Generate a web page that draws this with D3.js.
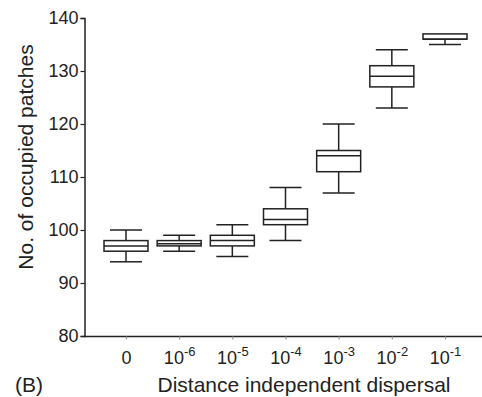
<!DOCTYPE html>
<html><head><meta charset="utf-8">
<script src="https://cdn.jsdelivr.net/npm/d3@7"></script>
<style>
html,body{margin:0;padding:0;background:#fff;}
svg{display:block;font-family:"Liberation Sans",Arial,sans-serif;}
</style></head>
<body>
<svg id="c" width="482" height="397"></svg>
<script>
const categories = ["0", "-6", "-5", "-4", "-3", "-2", "-1"];
const whiskerLow  = [94, 96, 95, 98, 107, 123, 135];
const q1          = [96, 97, 97, 101, 111, 127, 136];
const medians     = [97, 97.4, 98, 102, 114, 129, 136];
const q3          = [98, 98, 99, 104, 115, 131, 137];
const whiskerHigh = [100, 99, 101, 108, 120, 134, 137];
const yTicks = [80, 90, 100, 110, 120, 130, 140];

const svg = d3.select("#c");
const ink = "#222";
const y = d3.scaleLinear().domain([80, 140]).range([336, 18]);
const x = d3.scalePoint().domain(categories).range([126, 445]);
const boxW = 44, capW = 32;

// y axis
const yAx = svg.append("g").attr("transform", "translate(84.5,0)")
  .call(d3.axisLeft(y).tickValues(yTicks).tickSize(4).tickPadding(2));
yAx.select(".domain").attr("stroke", ink).attr("stroke-width", 1.5);
yAx.selectAll(".tick line").attr("stroke", ink).attr("stroke-width", 1.2);
yAx.selectAll(".tick text").attr("fill", ink).attr("font-size", 18)
  .attr("font-family", "Liberation Sans, Arial, sans-serif");

// x axis
svg.append("line").attr("x1", 84).attr("x2", 482).attr("y1", 336.5).attr("y2", 336.5)
  .attr("stroke", ink).attr("stroke-width", 1.5);
const xAx = svg.append("g").attr("transform", "translate(0,336.5)")
  .call(d3.axisBottom(x).tickSize(3).tickPadding(8).tickFormat(""));
xAx.select(".domain").remove();
xAx.selectAll(".tick line").attr("stroke", "#999").attr("stroke-width", 1.2);
xAx.selectAll(".tick text").remove();
xAx.selectAll(".tick").append("text")
  .attr("y", 27).attr("text-anchor", "middle").attr("fill", ink)
  .attr("font-size", 18)
  .each(function(d) {
    const t = d3.select(this);
    if (d === "0") { t.text("0"); }
    else {
      t.append("tspan").text("10");
      t.append("tspan").attr("dy", -8).attr("font-size", 13).text(d);
    }
  });

// boxes
const g = svg.append("g").attr("fill", "none").attr("stroke", ink).attr("stroke-width", 1.5);
categories.forEach((c, i) => {
  const cx = x(c);
  g.append("line").attr("x1", cx).attr("x2", cx).attr("y1", y(q3[i])).attr("y2", y(whiskerHigh[i]));
  g.append("line").attr("x1", cx).attr("x2", cx).attr("y1", y(q1[i])).attr("y2", y(whiskerLow[i]));
  if (whiskerHigh[i] > q3[i])
    g.append("line").attr("x1", cx - capW/2).attr("x2", cx + capW/2).attr("y1", y(whiskerHigh[i])).attr("y2", y(whiskerHigh[i]));
  if (whiskerLow[i] < q1[i])
    g.append("line").attr("x1", cx - capW/2).attr("x2", cx + capW/2).attr("y1", y(whiskerLow[i])).attr("y2", y(whiskerLow[i]));
  g.append("rect").attr("x", cx - boxW/2).attr("y", y(q3[i]))
    .attr("width", boxW).attr("height", y(q1[i]) - y(q3[i])).attr("fill", "#fff");
  g.append("line").attr("x1", cx - boxW/2).attr("x2", cx + boxW/2).attr("y1", y(medians[i])).attr("y2", y(medians[i]));
});

// titles
svg.append("text").attr("transform", "translate(33,157) rotate(-90)")
  .attr("text-anchor", "middle").attr("font-size", 21).attr("fill", ink)
  .text("No. of occupied patches");
svg.append("text").attr("x", 304).attr("y", 392).attr("text-anchor", "middle")
  .attr("font-size", 21).attr("fill", ink).text("Distance independent dispersal");
svg.append("text").attr("x", 15).attr("y", 392).attr("font-size", 21).attr("fill", ink).text("(B)");
</script>
</body></html>
